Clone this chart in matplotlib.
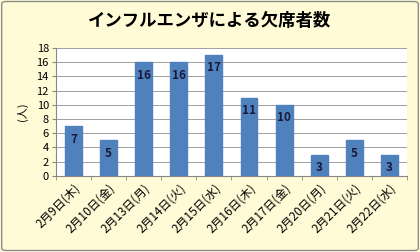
import matplotlib
matplotlib.use("Agg")
import matplotlib.pyplot as plt
from matplotlib.patches import FancyBboxPatch

plt.rcParams["font.family"] = ["Noto Sans CJK JP", "DejaVu Sans"]

# ── データ ────────────────────────────────────────────
dates = ["2月9日(木)", "2月10日(金)", "2月13日(月)", "2月14日(火)", "2月15日(水)",
         "2月16日(木)", "2月17日(金)", "2月20日(月)", "2月21日(火)", "2月22日(水)"]
absent = [7, 5, 16, 16, 17, 11, 10, 3, 5, 3]
yticks = list(range(0, 19, 2))

BG = "#FFFBD6"
BAR = "#4F81BD"

fig = plt.figure(figsize=(4.2, 2.52), dpi=100)
fig.patch.set_facecolor(BG)
fig.patches.append(FancyBboxPatch((0.004, 0.006), 0.992, 0.988,
                                  boxstyle="round,pad=0,rounding_size=0.01",
                                  transform=fig.transFigure, facecolor="none",
                                  edgecolor="#8C8C8C", linewidth=1.0))

ax = fig.add_axes([0.133, 0.302, 0.836, 0.508])
ax.set_facecolor("white")
x = list(range(len(dates)))
bars = ax.bar(x, absent, width=0.48, color=BAR, edgecolor=BAR, zorder=3)
for b, v in zip(bars, absent):
    ax.text(b.get_x() + b.get_width() / 2, v - 0.9, str(v), ha="center", va="top",
            fontsize=8.5, fontweight="bold", color="#1a1a3a", zorder=4)

ax.set_ylim(0, 18)
ax.set_xlim(-0.5, len(dates) - 0.5)
ax.set_yticks(yticks)
ax.tick_params(axis="y", labelsize=8, length=3, color="#888888", pad=2)
ax.yaxis.grid(True, color="#A0A0A0", linewidth=0.7, zorder=0)
ax.set_xticks(x)
ax.set_xticklabels(dates, rotation=45, ha="right", rotation_mode="anchor", fontsize=8.5)
ax.tick_params(axis="x", length=0, pad=4)
# 区切りの目盛り
ax.set_xticks([i - 0.5 for i in range(len(dates) + 1)], minor=True)
ax.tick_params(axis="x", which="minor", length=3, color="#888888")
for s in ["top", "right"]:
    ax.spines[s].set_visible(False)
ax.spines["left"].set_color("#888888")
ax.spines["bottom"].set_color("#888888")
ax.set_ylabel("(人)", rotation=90, fontsize=8, labelpad=6)

fig.text(0.5, 0.918, "インフルエンザによる欠席者数", ha="center", va="center",
         fontsize=12.5, fontweight="bold")

fig.savefig("out.png", dpi=100, facecolor=BG)
